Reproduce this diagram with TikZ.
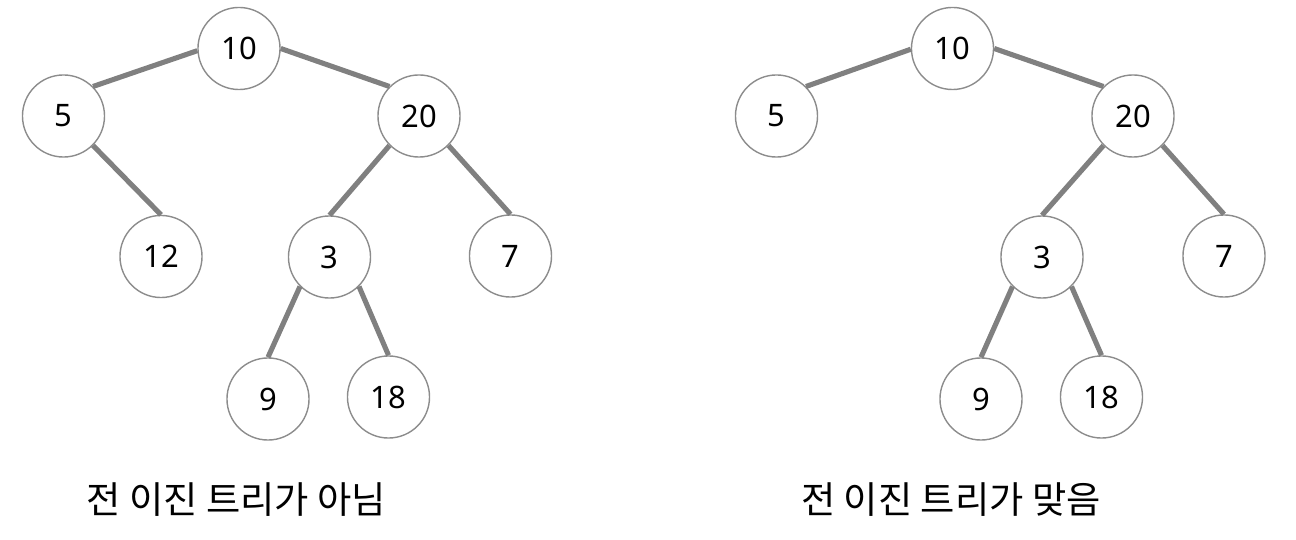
\documentclass[tikz,border=0pt]{standalone}
\usepackage{fontspec}
\setmainfont{Noto Sans}
\newfontfamily\kofont{Noto Sans CJK KR}
\begin{document}
\begin{tikzpicture}[x=0.01cm,y=-0.01cm,
    vtx/.style={circle,draw=black!45,line width=0.4pt,fill=white,minimum size=0.82cm,inner sep=0pt,font=\fontsize{8.8}{10}\selectfont},
    link/.style={line width=1.45pt,draw=black!50},
    caption/.style={font=\kofont\fontsize{10.6}{12}\selectfont}]
  \useasboundingbox (0,0) rectangle (1296,540);
  % not a full binary tree
  \node[vtx] (a10) at (239,48.5) {10};
  \node[vtx] (a5) at (63.5,116) {5};
  \node[vtx] (a20) at (419,116) {20};
  \node[vtx] (a12) at (161,256.5) {12};
  \node[vtx] (a3) at (329.5,257) {3};
  \node[vtx] (a7) at (510.5,256) {7};
  \node[vtx] (a9) at (268,399) {9};
  \node[vtx] (a18) at (388.5,397) {18};
  \draw[link] (a10.183) -- (a5.45);
  \draw[link] (a10.0) -- (a20.135);
  \draw[link] (a5.-45) -- (a12.north);
  \draw[link] (a20.-135) -- (a3.north);
  \draw[link] (a20.-45) -- (a7.north);
  \draw[link] (a3.-135) -- (a9.north);
  \draw[link] (a3.-45) -- (a18.north);
  \node[caption] (capa) at (236.5,500) {전 이진 트리가 아님};
  % full binary tree
  \node[vtx] (b10) at (952.5,48.5) {10};
  \node[vtx] (b5) at (776.5,116) {5};
  \node[vtx] (b20) at (1133,116) {20};
  \node[vtx] (b3) at (1042,257) {3};
  \node[vtx] (b7) at (1224,256) {7};
  \node[vtx] (b9) at (981,399) {9};
  \node[vtx] (b18) at (1101.5,397) {18};
  \draw[link] (b10.181) -- (b5.45);
  \draw[link] (b10.0) -- (b20.135);
  \draw[link] (b20.-135) -- (b3.north);
  \draw[link] (b20.-45) -- (b7.north);
  \draw[link] (b3.-135) -- (b9.north);
  \draw[link] (b3.-45) -- (b18.north);
  \node[caption] (capb) at (951,500) {전 이진 트리가 맞음};
\end{tikzpicture}
\end{document}
